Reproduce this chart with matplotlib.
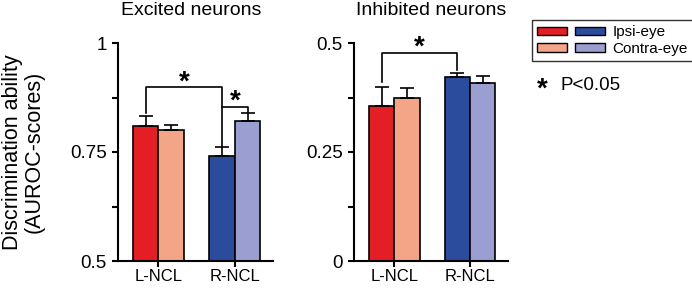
import numpy as np
import matplotlib.pyplot as plt
from matplotlib.patches import Patch
from matplotlib.legend_handler import HandlerTuple

plt.rcParams['font.family'] = ['Liberation Sans', 'DejaVu Sans']

# ===== Data =====
groups = ['L-NCL', 'R-NCL']

exc_ipsi = [0.81, 0.741]
exc_ipsi_err = [0.022, 0.020]
exc_contra = [0.80, 0.821]
exc_contra_err = [0.011, 0.018]

inh_ipsi = [0.355, 0.423]
inh_ipsi_err = [0.043, 0.009]
inh_contra = [0.375, 0.408]
inh_contra_err = [0.021, 0.016]

c_left_ipsi = '#E31E24'
c_left_contra = '#F4A487'
c_right_ipsi = '#2B4C9C'
c_right_contra = '#9A9ED0'

w = 0.335
lw = 1.5

fig = plt.figure(figsize=(6.92, 2.88), dpi=100)
ax1 = fig.add_axes([118/692, 27/288, 155/692, 218/288])
ax2 = fig.add_axes([354/692, 27/288, 154/692, 218/288])


def draw_panel(ax, ipsi, ipsi_err, contra, contra_err):
    x = np.arange(len(groups))
    ipsi_cols = [c_left_ipsi, c_right_ipsi]
    contra_cols = [c_left_contra, c_right_contra]
    ekw = dict(ecolor='black', elinewidth=1.2, capsize=5, capthick=1.2)
    ax.bar(x - w/2, ipsi, w, color=ipsi_cols, edgecolor='black', linewidth=1.2,
           yerr=[np.zeros(2), ipsi_err], error_kw=ekw, zorder=2)
    ax.bar(x + w/2, contra, w, color=contra_cols, edgecolor='black', linewidth=1.2,
           yerr=[np.zeros(2), contra_err], error_kw=ekw, zorder=2)
    ax.set_xticks(x)
    ax.set_xticklabels(groups, fontsize=12)
    ax.set_xlim(-0.53, 1.5)
    for s in ['top', 'right']:
        ax.spines[s].set_visible(False)
    for s in ['left', 'bottom']:
        ax.spines[s].set_linewidth(lw)
    ax.tick_params(axis='both', width=lw, length=4.5, labelsize=13.5)
    ax.tick_params(axis='x', length=4, pad=2, labelsize=12)


def bracket(ax, x0, x1, top, y0, y1):
    ax.plot([x0, x0, x1, x1], [y0, top, top, y1], color='black', lw=1.2,
            clip_on=False, zorder=3)


def star(ax, x, y):
    ax.text(x, y, '*', ha='center', va='center', fontsize=20,
            fontweight='bold', clip_on=False)


# ===== Excited neurons =====
draw_panel(ax1, exc_ipsi, exc_ipsi_err, exc_contra, exc_contra_err)
ax1.set_ylim(0.5, 1.0)
ax1.set_yticks(np.arange(0.5, 1.001, 0.125))
ax1.set_yticklabels(['0.5', '', '0.75', '', '1'])
ax1.set_ylabel('Discrimination ability\n(AUROC-scores)', fontsize=15.5,
               linespacing=1.0)
ax1.yaxis.set_label_coords(-0.475, 0.5)
ax1.text(0.47, 1.11, 'Excited neurons', transform=ax1.transAxes,
         ha='center', va='bottom', fontsize=14)
bracket(ax1, -w/2, 1 - w/2, 0.898, 0.839, 0.763)
star(ax1, (-w/2 + 1 - w/2) / 2, 0.91)
bracket(ax1, 1 - w/2, 1 + w/2, 0.854, 0.854, 0.841)
star(ax1, 1, 0.866)

# ===== Inhibited neurons =====
draw_panel(ax2, inh_ipsi, inh_ipsi_err, inh_contra, inh_contra_err)
ax2.set_ylim(0, 0.5)
ax2.set_yticks(np.arange(0, 0.501, 0.125))
ax2.set_yticklabels(['0', '', '0.25', '', '0.5'])
ax2.text(0.5, 1.11, 'Inhibited neurons', transform=ax2.transAxes,
         ha='center', va='bottom', fontsize=14)
bracket(ax2, -w/2, 1 - w/2, 0.477, 0.411, 0.438)
star(ax2, (-w/2 + 1 - w/2) / 2, 0.49)

# ===== Legend =====
h1 = (Patch(facecolor=c_left_ipsi, edgecolor='black', lw=1),
      Patch(facecolor=c_right_ipsi, edgecolor='black', lw=1))
h2 = (Patch(facecolor=c_left_contra, edgecolor='black', lw=1),
      Patch(facecolor=c_right_contra, edgecolor='black', lw=1))
leg = fig.legend([h1, h2], ['Ipsi-eye', 'Contra-eye'],
                 handler_map={tuple: HandlerTuple(ndivide=None, pad=0.55)},
                 loc='upper left', bbox_to_anchor=(532/692, 1 - 20/288),
                 fontsize=11, handlelength=4.4, handleheight=0.5,
                 handletextpad=0.5, labelspacing=0.15, borderpad=0.35,
                 borderaxespad=0, fancybox=False, frameon=True)
leg.get_frame().set_edgecolor('black')
leg.get_frame().set_linewidth(1)

fig.text(537/692, 1 - 90/288, '*', ha='left', va='center', fontsize=20,
         fontweight='bold')
fig.text(560/692, 1 - 85/288, 'P<0.05', ha='left', va='center', fontsize=13.5)

fig.savefig('out.png', dpi=100)
